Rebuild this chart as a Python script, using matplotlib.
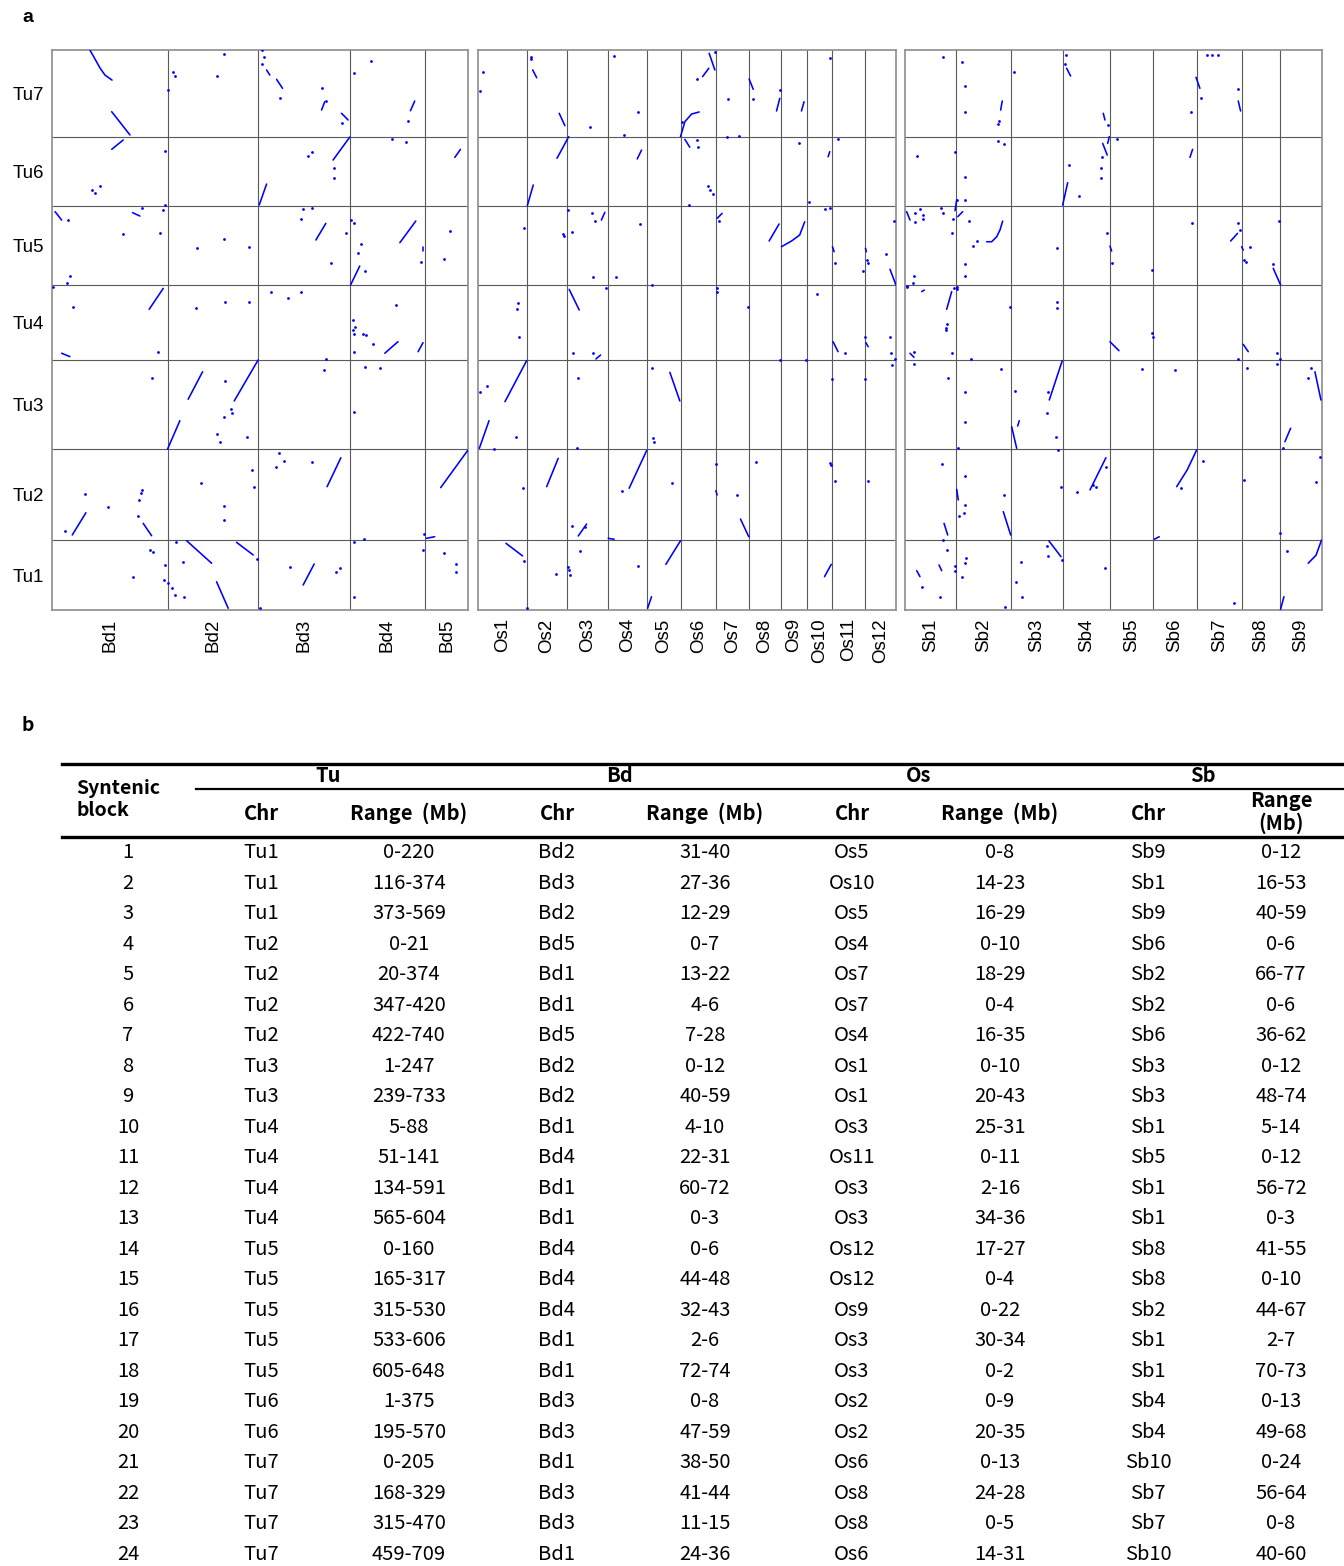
import numpy as np
import matplotlib
matplotlib.use("Agg")
from matplotlib import pyplot as plt
from matplotlib.lines import Line2D

# chromosome names and sizes (Mb)
tu_names = ["Tu1", "Tu2", "Tu3", "Tu4", "Tu5", "Tu6", "Tu7"]
tu_sizes = [574, 746, 733, 615, 650, 570, 712]
bd_names = ["Bd1", "Bd2", "Bd3", "Bd4", "Bd5"]
bd_sizes = [75.1, 59.1, 59.8, 48.6, 28.4]
os_names = ["Os1", "Os2", "Os3", "Os4", "Os5", "Os6", "Os7", "Os8", "Os9", "Os10", "Os11", "Os12"]
os_sizes = [43.3, 35.9, 36.4, 35.5, 29.9, 31.2, 29.7, 28.4, 23.0, 23.2, 29.0, 27.5]
sb_names = ["Sb1", "Sb2", "Sb3", "Sb4", "Sb5", "Sb6", "Sb7", "Sb8", "Sb9"]
sb_sizes = [73.8, 77.9, 74.4, 68.0, 62.4, 62.2, 64.3, 55.5, 59.6]

# collinear runs, cumulative positions (x: other genome Mb, y: Tu Mb)
bd_blocks = [
    [(24.5, 4600), (31.1, 4452), (34.3, 4394), (38.9, 4353)],
    [(38.7, 4093), (50.6, 3902)],
    [(139.6, 4436), (141.7, 4394)],
    [(146.1, 4359), (150.0, 4285)],
    [(175.4, 4107), (177.5, 4175)],
    [(188.4, 4080), (190.6, 4052), (192.7, 4025)],
    [(233.3, 4101), (236.1, 4181)],
    [(38.7, 3784), (46.2, 3861)],
    [(134.8, 3327), (139.6, 3499)],
    [(182.9, 3696), (193.8, 3885)],
    [(262.2, 3718), (265.9, 3784)],
    [(1.8, 3272), (6.1, 3203)],
    [(52.3, 3264), (57.1, 3236)],
    [(171.7, 3039), (178.2, 3176)],
    [(226.4, 3017), (236.8, 3195)],
    [(194.3, 2670), (200.3, 2826)],
    [(241.5, 2984), (241.5, 2951)],
    [(63.1, 2470), (72.3, 2642)],
    [(6.1, 2109), (11.5, 2081)],
    [(216.6, 2109), (225.2, 2204)],
    [(238.3, 2122), (241.5, 2196)],
    [(75.1, 1322), (83.1, 1555)],
    [(88.5, 1731), (97.9, 1957)],
    [(118.5, 1717), (134.1, 2054)],
    [(13.0, 616), (21.9, 799)],
    [(59.2, 712), (64.7, 610)],
    [(179.0, 1013), (188.0, 1251)],
    [(253.0, 1005), (270.8, 1314)],
    [(243.7, 589), (249.1, 602)],
    [(87.5, 569), (103.8, 384)],
    [(120.0, 556), (130.9, 452)],
    [(107.0, 232), (114.6, 14)],
    [(163.4, 205), (170.6, 378)],
]
bd_dots = [
    (112, 4567), (78.4, 4422), (79.9, 4386), (107, 4386), (75.5, 4271), (136.3, 4600), (137.8, 4545),
    (136.3, 4485), (148.2, 4203), (176, 4285), (178.2, 4181), (188.4, 3998), (207.5, 4512), (196.4, 4408),
    (231.8, 4017),
    (25.6, 3450), (27.8, 3428), (31.1, 3483), (73.4, 3770), (166.7, 3729), (168.9, 3765), (183.4, 3628),
    (183.4, 3551), (221.6, 3869), (230.7, 3847),
    (10.4, 3203), (58.2, 3305), (45.8, 3086), (70.1, 3099), (72.3, 3286), (73.4, 3327), (11.5, 2746),
    (9.4, 2684), (94.4, 2971), (112, 3045), (128, 2979), (163.4, 3291), (169.5, 3305), (161.9, 3209),
    (181.4, 2848), (191.2, 3094), (201.4, 3006), (199.2, 2930), (203.6, 2787), (194.9, 3203), (196.4, 3181),
    (240, 2861), (259.4, 3116), (255.2, 2881),
    (13.3, 2491), (0.7, 2656), (68.6, 2117), (93.5, 2478), (112.4, 2532), (128.2, 2532), (142.2, 2610),
    (153.6, 2560), (161.9, 2615), (196, 2382), (197.1, 2327), (223.8, 2505), (196, 2300), (196.4, 2267),
    (202.5, 2267), (204.2, 2259), (209, 2185), (196.6, 2117),
    (64.7, 1903), (112.4, 1881), (112, 1588), (116.3, 1649), (116.8, 1616), (126.6, 1423), (107, 1443),
    (109.2, 1382), (178.2, 2059), (177.1, 1971), (203.6, 1998), (213.3, 1985), (196.4, 1629),
    (8.3, 651), (21.3, 950), (36.5, 849), (58.2, 986), (57.5, 960), (56.4, 904), (55.6, 772), (96.8, 1046),
    (111.8, 857), (111.8, 739), (130.2, 1150), (131.5, 1013), (145.6, 1177), (147.8, 1292), (151, 1226),
    (169.5, 1213), (242, 624),
    (52.7, 274), (63.6, 493), (65.4, 474), (133.1, 416), (73.4, 370), (72.7, 246), (75.5, 219), (77.7, 178),
    (79.9, 123), (85.7, 109), (84.9, 392), (80.5, 561), (154.7, 351), (185.1, 310), (187.3, 347),
    (135.2, 14), (196.4, 561), (202.9, 583), (196.4, 109), (255.2, 466), (263.3, 375), (262.8, 310),
    (241.5, 493),
]

os_blocks = [
    [(48.6, 4436), (52.2, 4372)],
    [(72.3, 4080), (77.4, 3978)],
    [(180.7, 3888), (184.6, 4011), (190.6, 4074), (197.4, 4091)],
    [(206.3, 4573), (211.4, 4436)],
    [(200.4, 4381), (206.0, 4450)],
    [(242.0, 4362), (245.7, 4277)],
    [(266.5, 4099), (269.4, 4203)],
    [(288.8, 4099), (291.1, 4175)],
    [(70.3, 3710), (80.8, 3888)],
    [(43.8, 3321), (49.1, 3491)],
    [(142.0, 3705), (145.9, 3778)],
    [(184.6, 3866), (189.0, 3801)],
    [(312.6, 3723), (314.1, 3765)],
    [(110.0, 3203), (113.1, 3267)],
    [(213.4, 3217), (217.9, 3258)],
    [(259.9, 3031), (268.8, 3171)],
    [(270.9, 2984), (279.9, 3031), (287.2, 3080), (291.7, 3189)],
    [(316.5, 2984), (318.0, 2943)],
    [(346.0, 2971), (346.8, 2943)],
    [(367.9, 2799), (373.2, 2670)],
    [(81.2, 2634), (90.2, 2464)],
    [(105.1, 2062), (109.3, 2095)],
    [(317.0, 2204), (321.5, 2122)],
    [(346.3, 2196), (348.4, 2163)],
    [(23.8, 1711), (43.2, 2048)],
    [(0.9, 1328), (9.6, 1555)],
    [(171.2, 1952), (180.1, 1717)],
    [(61.1, 1013), (71.4, 1246)],
    [(134.8, 1000), (150.4, 1309)],
    [(212.3, 980), (213.4, 945)],
    [(234.3, 747), (241.7, 602)],
    [(89.3, 608), (96.8, 706)],
    [(116.1, 589), (121.4, 581)],
    [(24.7, 548), (39.6, 444)],
    [(167.6, 375), (180.7, 569)],
    [(151.3, 14), (154.8, 109)],
    [(309.4, 274), (315.4, 375)],
]
os_dots = [
    (3.9, 4422), (1.5, 4263), (47.1, 4545), (47.1, 4526), (99.7, 3965), (121.4, 4553), (142.3, 4093),
    (130.4, 3902), (181.6, 4011), (195.2, 4359), (211.4, 4586), (222.7, 4195), (221.8, 3883), (233.1, 3896),
    (245.7, 4195), (269.4, 4271), (314.7, 4531),
    (196.5, 3801), (195.5, 3861), (205.4, 3483), (207.5, 3450), (209.3, 3417), (188.3, 3327), (286.7, 3833),
    (295.6, 3354), (321.5, 3866),
    (40.8, 3135), (80.4, 3286), (75.9, 3088), (76.8, 3072), (83.6, 3102), (101.3, 3258), (104.2, 3195),
    (102.7, 2738), (122.7, 2738), (144.4, 3171), (215.3, 3195), (309.9, 3291), (314.0, 3305), (318.6, 2853),
    (347.5, 2875), (347.8, 2848), (343.8, 2787), (364.1, 2922), (371.2, 3198), (154.8, 2670),
    (114.0, 2642), (35.7, 2519), (34.8, 2470), (36.3, 2245), (212.9, 2642), (212.9, 2615), (241.1, 2491),
    (303.1, 2593), (84.8, 2113), (102.7, 2109), (327.3, 2109), (345.5, 2245), (368.3, 2245), (369.2, 2113),
    (372.1, 2062), (370.1, 2012),
    (1.5, 1793), (8.0, 1842), (33.4, 1423), (14.3, 1322), (88.8, 1903), (87.9, 1333), (155.4, 1985),
    (156.3, 1410), (157.2, 1382), (269.4, 2054), (292.6, 2054), (316.5, 1895), (345.3, 1895),
    (40.2, 1005), (128.0, 977), (172.7, 1041), (212.0, 1199), (231.3, 945), (248.5, 1218), (83.3, 692),
    (95.2, 679), (314.0, 1205), (314.9, 1191), (318.8, 1060), (348.4, 1060),
    (41.1, 405), (69.4, 296), (43.2, 14), (79.8, 356), (81.0, 329), (81.9, 288), (90.8, 487), (142.9, 364),
]

sb_blocks = [
    [(137.3, 4107), (139.6, 4181)],
    [(232.0, 4450), (237.7, 4386)],
    [(284.6, 4080), (287.0, 4025)],
    [(417.6, 4376), (423.3, 4285)],
    [(478.3, 4181), (481.7, 4099)],
    [(226.3, 3327), (233.5, 3510)],
    [(283.7, 3833), (290.3, 3737)],
    [(290.9, 3833), (293.2, 3888)],
    [(409.0, 3718), (412.8, 3784)],
    [(2.4, 3272), (7.2, 3203)],
    [(71.8, 3280), (74.2, 3368)],
    [(75.7, 3231), (82.8, 3272)],
    [(24.0, 2615), (27.7, 2628)],
    [(117.2, 3025), (124.4, 3025), (131.6, 3066), (136.3, 3121), (140.2, 3195)],
    [(294.2, 2989), (296.6, 2949)],
    [(467.4, 3031), (477.4, 3094)],
    [(483.2, 2984), (485.5, 2957)],
    [(528.5, 2807), (539.1, 2670)],
    [(59.8, 2470), (67.0, 2615)],
    [(7.2, 2109), (12.9, 2076)],
    [(294.2, 2204), (307.1, 2130)],
    [(485.5, 2182), (492.7, 2122)],
    [(207.1, 1725), (225.7, 2048)],
    [(153.1, 1506), (160.3, 1328)],
    [(161.7, 1511), (164.0, 1555)],
    [(588.4, 1957), (597.0, 1725)],
    [(545.3, 1382), (553.5, 1493)],
    [(56.0, 712), (61.3, 616)],
    [(74.2, 991), (76.5, 904)],
    [(141.1, 808), (151.7, 616)],
    [(265.5, 986), (288.4, 1251)],
    [(389.9, 1013), (405.0, 1150), (418.6, 1314)],
    [(357.7, 581), (364.9, 602)],
    [(16.8, 323), (21.5, 274)],
    [(48.8, 370), (52.7, 323)],
    [(206.6, 567), (223.9, 438)],
    [(539.1, 6), (543.9, 109)],
    [(578.7, 384), (590.0, 450), (597.9, 575)],
]
sb_dots = [
    (54.1, 4545), (81.4, 4499), (86.1, 4304), (86.1, 4093), (133.9, 3992), (135.3, 4017), (156.4, 4422),
    (231.0, 4559), (229.6, 4485), (291.8, 3984), (410.0, 4093), (432.9, 4559), (441.0, 4559), (449.6, 4559),
    (424.3, 4203), (477.4, 4277),
    (17.7, 3729), (71.8, 3765), (86.1, 3554), (86.1, 3368), (74.2, 3368), (133.9, 3852), (142.5, 3825),
    (249.7, 3401), (235.8, 3655), (282.2, 3718), (280.8, 3628), (280.8, 3551), (303.8, 3869),
    (14.4, 3264), (21.5, 3291), (25.4, 3244), (25.4, 3212), (14.4, 3190), (51.7, 3300), (54.1, 3258),
    (69.3, 3212), (67.9, 3099), (92.3, 3198), (13.3, 2746), (11.0, 2688), (2.4, 2656), (86.1, 2840),
    (86.1, 2746), (98.0, 2992), (102.7, 3031), (217.7, 2971), (290.3, 3094), (297.5, 2853), (354.9, 2793),
    (411.4, 3176), (478.3, 3176), (480.7, 3121), (495.1, 2984), (487.0, 2875), (488.9, 2861), (536.7, 3198),
    (527.6, 2840),
    (70.3, 2642), (75.1, 2634), (74.2, 2656), (59.8, 2349), (58.8, 2314), (58.8, 2300), (67.0, 2113),
    (2.4, 2661), (12.9, 2117), (12.9, 2018), (150.7, 2491), (218.5, 2527), (218.5, 2478), (94.7, 2059),
    (354.0, 2273), (355.4, 2245), (478.3, 2059), (533.4, 2113), (533.4, 2021), (538.1, 2062),
    (61.3, 1903), (137.2, 1977), (86.1, 1793), (86.1, 1547), (75.6, 1328), (204.6, 1793), (203.2, 1616),
    (216.6, 1423), (219.9, 1314), (157.9, 1801), (340.5, 1980), (387.5, 1971), (491.5, 1990), (582.6, 1990),
    (578.8, 1903), (542.9, 1333),
    (52.7, 1199), (55.0, 575), (86.1, 1103), (86.1, 862), (85.1, 794), (77.5, 775), (142.5, 945),
    (223.4, 1013), (246.4, 972), (270.2, 1027), (274.1, 1013), (288.0, 1177), (428.0, 1226), (396.1, 1000),
    (486.9, 1068), (595.5, 1254), (589.4, 1049), (538.1, 630),
    (24.8, 192), (50.2, 109), (59.8, 493), (71.8, 364), (71.8, 323), (87.1, 425), (86.1, 384), (81.4, 274),
    (143.5, 22), (166.4, 392), (159.2, 228), (168.3, 109), (203.3, 526), (205.7, 446), (224.8, 411),
    (287.0, 347), (472.1, 55), (547.7, 485),
]

# table b
block_ids = list(range(1, 25))
tu_chr = ["Tu1", "Tu1", "Tu1", "Tu2", "Tu2", "Tu2", "Tu2", "Tu3", "Tu3", "Tu4", "Tu4", "Tu4",
          "Tu4", "Tu5", "Tu5", "Tu5", "Tu5", "Tu5", "Tu6", "Tu6", "Tu7", "Tu7", "Tu7", "Tu7"]
tu_range = ["0-220", "116-374", "373-569", "0-21", "20-374", "347-420", "422-740", "1-247", "239-733",
            "5-88", "51-141", "134-591", "565-604", "0-160", "165-317", "315-530", "533-606", "605-648",
            "1-375", "195-570", "0-205", "168-329", "315-470", "459-709"]
bd_chr = ["Bd2", "Bd3", "Bd2", "Bd5", "Bd1", "Bd1", "Bd5", "Bd2", "Bd2", "Bd1", "Bd4", "Bd1",
          "Bd1", "Bd4", "Bd4", "Bd4", "Bd1", "Bd1", "Bd3", "Bd3", "Bd1", "Bd3", "Bd3", "Bd1"]
bd_range = ["31-40", "27-36", "12-29", "0-7", "13-22", "4-6", "7-28", "0-12", "40-59", "4-10", "22-31",
            "60-72", "0-3", "0-6", "44-48", "32-43", "2-6", "72-74", "0-8", "47-59", "38-50", "41-44",
            "11-15", "24-36"]
os_chr = ["Os5", "Os10", "Os5", "Os4", "Os7", "Os7", "Os4", "Os1", "Os1", "Os3", "Os11", "Os3",
          "Os3", "Os12", "Os12", "Os9", "Os3", "Os3", "Os2", "Os2", "Os6", "Os8", "Os8", "Os6"]
os_range = ["0-8", "14-23", "16-29", "0-10", "18-29", "0-4", "16-35", "0-10", "20-43", "25-31", "0-11",
            "2-16", "34-36", "17-27", "0-4", "0-22", "30-34", "0-2", "0-9", "20-35", "0-13", "24-28",
            "0-5", "14-31"]
sb_chr = ["Sb9", "Sb1", "Sb9", "Sb6", "Sb2", "Sb2", "Sb6", "Sb3", "Sb3", "Sb1", "Sb5", "Sb1",
          "Sb1", "Sb8", "Sb8", "Sb2", "Sb1", "Sb1", "Sb4", "Sb4", "Sb10", "Sb7", "Sb7", "Sb10"]
sb_range = ["0-12", "16-53", "40-59", "0-6", "66-77", "0-6", "36-62", "0-12", "48-74", "5-14", "0-12",
            "56-72", "0-3", "41-55", "0-10", "44-67", "2-7", "70-73", "0-13", "49-68", "0-24", "56-64",
            "0-8", "40-60"]

W, H = 1344, 1566
BLUE = "#0000ff"
plt.rcParams["font.family"] = ["Liberation Sans", "DejaVu Sans"]
fig = plt.figure(figsize=(W / 100, H / 100), dpi=100)


def fx(px):
    return px / W


def fy(py):
    return 1 - py / H


def dotplot(left, width, names, sizes, blocks, dots, ylabels):
    ax = fig.add_axes([fx(left), fy(610), width / W, 560 / H])
    xb = np.concatenate([[0], np.cumsum(sizes)])
    yb = np.concatenate([[0], np.cumsum(tu_sizes)])
    for b in xb[1:-1]:
        ax.axvline(b, color="#5a5a5a", lw=0.8, zorder=1)
    for b in yb[1:-1]:
        ax.axhline(b, color="#5a5a5a", lw=0.8, zorder=1)
    for blk in blocks:
        bx, by = zip(*blk)
        ax.plot(bx, by, color=BLUE, lw=1.15, solid_capstyle="round", zorder=3)
    dx, dy = zip(*dots)
    ax.scatter(dx, dy, s=4, color=BLUE, linewidths=0, zorder=3)
    ax.set_xlim(0, xb[-1])
    ax.set_ylim(0, yb[-1])
    ax.set_xticks((xb[:-1] + xb[1:]) / 2)
    ax.set_xticklabels(names, rotation=90, fontsize=13.5)
    if ylabels:
        ax.set_yticks((yb[:-1] + yb[1:]) / 2)
        ax.set_yticklabels(tu_names, fontsize=13.5)
    else:
        ax.set_yticks([])
    ax.tick_params(length=0, pad=6)
    for s in ax.spines.values():
        s.set_color("#8c8c8c")
        s.set_linewidth(1.2)
    return ax


dotplot(52.3, 416.0, bd_names, bd_sizes, bd_blocks, bd_dots, True)
dotplot(478.3, 417.4, os_names, os_sizes, os_blocks, os_dots, False)
dotplot(905.0, 416.7, sb_names, sb_sizes, sb_blocks, sb_dots, False)

fig.text(fx(28), fy(17), "a", fontsize=14, fontweight="bold", ha="center", va="center")

# ---- table ----
tf = ["Noto Sans CJK KR", "DejaVu Sans"]
fs = 14.5
fig.text(fx(28), fy(725), "b", fontsize=14, fontweight="bold", ha="center", va="center", family=tf)


def hline(y, x0, x1, lw):
    fig.add_artist(Line2D([fx(x0), fx(x1)], [fy(y), fy(y)], color="black", lw=lw,
                          transform=fig.transFigure))


hline(764, 62, 1344, 2.4)
hline(789, 196, 1344, 1.6)
hline(837, 62, 1344, 2.4)

fig.text(fx(76), fy(800), "Syntenic\nblock", fontsize=fs - 0.5, fontweight="bold", ha="left", va="center",
         family=tf, linespacing=1.2)
for name, xc in zip(["Tu", "Bd", "Os", "Sb"], [328, 620, 919, 1203]):
    fig.text(fx(xc), fy(776), name, fontsize=fs, fontweight="bold", ha="center", va="center", family=tf)
col_x = [128, 261, 409, 557, 705, 852, 1000, 1148, 1281]
for xc in col_x[1:8:2]:
    fig.text(fx(xc), fy(813), "Chr", fontsize=fs, fontweight="bold", ha="center", va="center", family=tf)
for xc in col_x[2:8:2]:
    fig.text(fx(xc), fy(813), "Range  (Mb)", fontsize=fs, fontweight="bold", ha="center", va="center",
             family=tf)
fig.text(fx(col_x[8]), fy(812), "Range\n(Mb)", fontsize=fs, fontweight="bold", ha="center", va="center",
         family=tf, linespacing=1.12)

columns = [[str(b) for b in block_ids], tu_chr, tu_range, bd_chr, bd_range, os_chr, os_range, sb_chr, sb_range]
for i in range(len(block_ids)):
    yy = 853 + 30.48 * i
    for xc, col in zip(col_x, columns):
        fig.text(fx(xc), fy(yy), col[i], fontsize=fs, ha="center", va="center", family=tf)

fig.savefig("out.png", dpi=100)
